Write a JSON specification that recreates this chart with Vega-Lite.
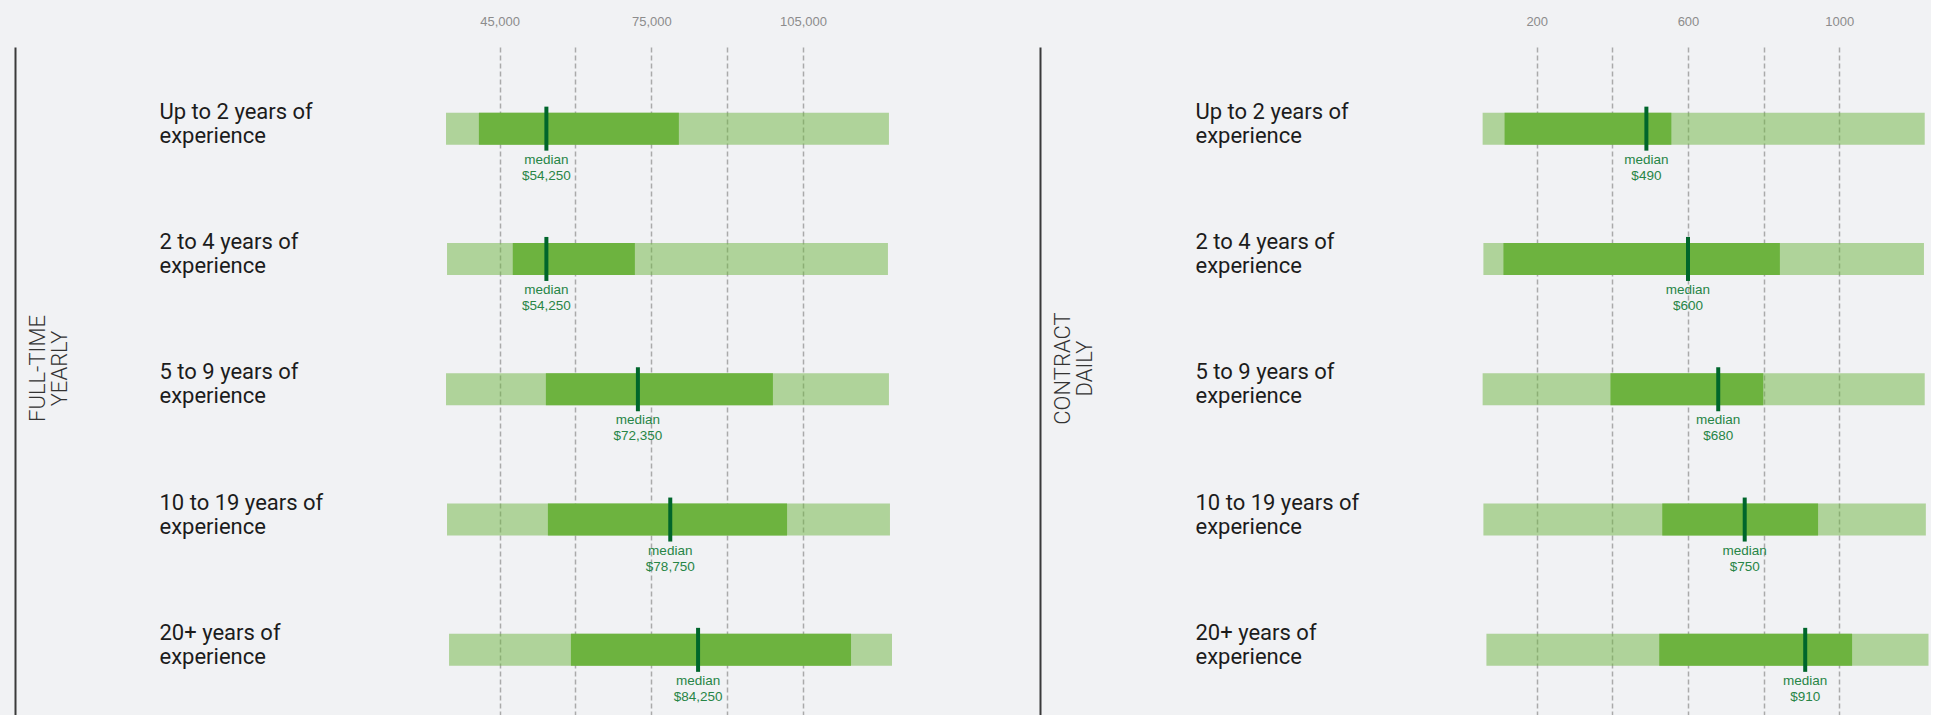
{
  "$schema": "https://vega.github.io/schema/vega-lite/v6.json",
  "background": "#f1f2f4",
  "padding": {"left": 15, "top": 15, "right": 1, "bottom": 0},
  "spacing": 146,
  "datasets": {
    "fulltime": [
      {"experience": "Up to 2 years of experience", "min": 34400, "q1": 40900, "median": 54250, "q3": 80450, "max": 122000, "label": "$54,250"},
      {"experience": "2 to 4 years of experience", "min": 34600, "q1": 47600, "median": 54250, "q3": 71750, "max": 121800, "label": "$54,250"},
      {"experience": "5 to 9 years of experience", "min": 34400, "q1": 54150, "median": 72350, "q3": 99050, "max": 122000, "label": "$72,350"},
      {"experience": "10 to 19 years of experience", "min": 34600, "q1": 54550, "median": 78750, "q3": 101850, "max": 122200, "label": "$78,750"},
      {"experience": "20+ years of experience", "min": 35000, "q1": 59100, "median": 84250, "q3": 114500, "max": 122600, "label": "$84,250"}
    ],
    "contract": [
      {"experience": "Up to 2 years of experience", "min": 57, "q1": 115, "median": 490, "q3": 556, "max": 1226, "label": "$490"},
      {"experience": "2 to 4 years of experience", "min": 59, "q1": 112, "median": 600, "q3": 843, "max": 1224, "label": "$600"},
      {"experience": "5 to 9 years of experience", "min": 57, "q1": 395, "median": 680, "q3": 799, "max": 1226, "label": "$680"},
      {"experience": "10 to 19 years of experience", "min": 59, "q1": 532, "median": 750, "q3": 944, "max": 1229, "label": "$750"},
      {"experience": "20+ years of experience", "min": 67, "q1": 524, "median": 910, "q3": 1034, "max": 1236, "label": "$910"}
    ]
  },
  "config": {
    "view": {"stroke": null},
    "axisX": {
      "orient": "top", "grid": true, "gridColor": "#aaaaaa", "gridDash": [5, 3], "gridWidth": 1.5,
      "domain": false, "ticks": false, "labelPadding": 22, "labelBaseline": "alphabetic",
      "labelFont": "Liberation Sans", "labelFontSize": 13, "labelColor": "#8c8c8c", "title": null
    },
    "axisY": {
      "domain": true, "domainColor": "#3a3a3a", "domainWidth": 2, "ticks": false, "tickSize": 0, "grid": false,
      "labelAlign": "left", "labelBaseline": "middle", "labelOffset": -17,
      "labelFont": "Roboto", "labelFontSize": 22, "labelColor": "#1c1c1c", "labelLineHeight": 24, "labelLimit": 0,
      "labelExpr": "split(replace(datum.label, 'of ', 'of|'), '|')",
      "titleFont": "Roboto", "titleFontSize": 22, "titleFontWeight": 300, "titleColor": "#333333", "titleLineHeight": 22,
      "titleAngle": -90, "titleAlign": "center", "titleBaseline": "middle", "titleY": 321, "titleX": 22
    }
  },
  "hconcat": [
    {
      "width": 450, "height": 668,
      "data": {"name": "fulltime"},
      "encoding": {
        "y": {"field": "experience", "type": "nominal", "sort": null,
          "scale": {"paddingInner": 0, "paddingOuter": 0.0633, "align": 1},
          "axis": {"orient": "left", "offset": 429, "labelPadding": -144, "title": ["FULL-TIME", "YEARLY"]}}
      },
      "layer": [
        {"mark": {"type": "bar", "size": 32, "color": "#6db33f", "opacity": 0.5},
          "encoding": {
            "x": {"field": "min", "type": "quantitative",
              "scale": {"domain": [34000, 123000], "nice": false, "zero": false},
              "axis": {"orient": "top", "values": [45000, 60000, 75000, 90000, 105000], "format": ",d",
                "labelExpr": "datum.value == 60000 || datum.value == 90000 ? '' : datum.label"}},
            "x2": {"field": "max"}}},
        {"mark": {"type": "bar", "size": 32, "color": "#6db33f"},
          "encoding": {"x": {"field": "q1", "type": "quantitative"}, "x2": {"field": "q3"}}},
        {"mark": {"type": "tick", "size": 44, "thickness": 4, "color": "#00662b", "opacity": 1},
          "encoding": {"x": {"field": "median", "type": "quantitative"}}},
        {"mark": {"type": "text", "text": "median", "dy": 35, "baseline": "alphabetic", "align": "center", "font": "Liberation Sans", "fontSize": 13.5, "color": "#278546"},
          "encoding": {"x": {"field": "median", "type": "quantitative"}}},
        {"mark": {"type": "text", "dy": 51, "baseline": "alphabetic", "align": "center", "font": "Liberation Sans", "fontSize": 13.5, "color": "#278546"},
          "encoding": {"x": {"field": "median", "type": "quantitative"}, "text": {"field": "label"}}}
      ]
    },
    {
      "width": 450, "height": 668,
      "data": {"name": "contract"},
      "encoding": {
        "y": {"field": "experience", "type": "nominal", "sort": null,
          "scale": {"paddingInner": 0, "paddingOuter": 0.0633, "align": 1},
          "axis": {"orient": "left", "offset": 440, "labelPadding": -155, "title": ["CONTRACT", "DAILY"]}}
      },
      "layer": [
        {"mark": {"type": "bar", "size": 32, "color": "#6db33f", "opacity": 0.5},
          "encoding": {
            "x": {"field": "min", "type": "quantitative",
              "scale": {"domain": [50, 1240], "nice": false, "zero": false},
              "axis": {"orient": "top", "values": [200, 400, 600, 800, 1000], "format": "d",
                "labelExpr": "datum.value == 400 || datum.value == 800 ? '' : datum.label"}},
            "x2": {"field": "max"}}},
        {"mark": {"type": "bar", "size": 32, "color": "#6db33f"},
          "encoding": {"x": {"field": "q1", "type": "quantitative"}, "x2": {"field": "q3"}}},
        {"mark": {"type": "tick", "size": 44, "thickness": 4, "color": "#00662b", "opacity": 1},
          "encoding": {"x": {"field": "median", "type": "quantitative"}}},
        {"mark": {"type": "text", "text": "median", "dy": 35, "baseline": "alphabetic", "align": "center", "font": "Liberation Sans", "fontSize": 13.5, "color": "#278546"},
          "encoding": {"x": {"field": "median", "type": "quantitative"}}},
        {"mark": {"type": "text", "dy": 51, "baseline": "alphabetic", "align": "center", "font": "Liberation Sans", "fontSize": 13.5, "color": "#278546"},
          "encoding": {"x": {"field": "median", "type": "quantitative"}, "text": {"field": "label"}}}
      ]
    }
  ]
}
